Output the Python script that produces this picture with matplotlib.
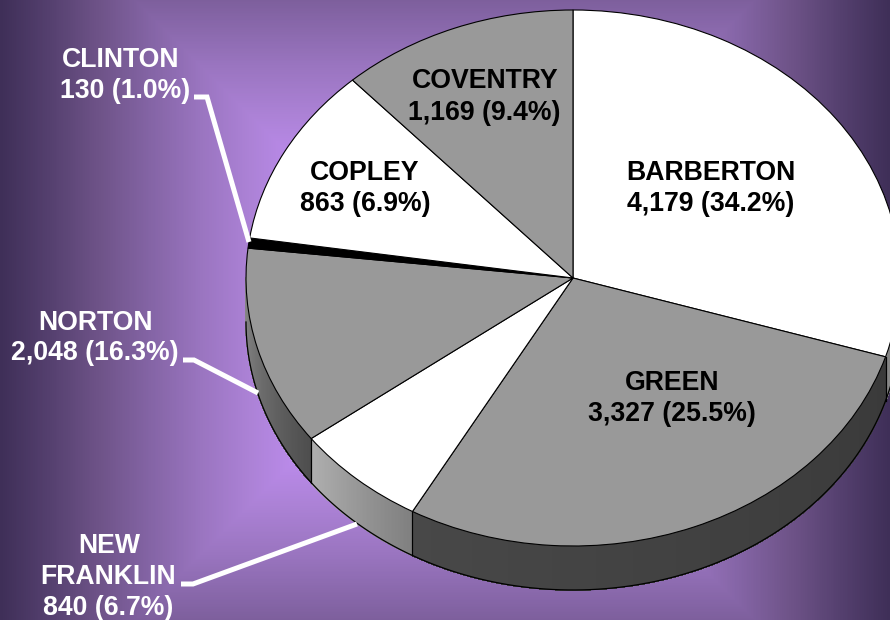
import numpy as np
import matplotlib
matplotlib.use('Agg')
import matplotlib.pyplot as plt
from matplotlib.colors import LinearSegmentedColormap, to_rgb

plt.rcParams['font.family'] = ['Liberation Sans', 'DejaVu Sans']

# clockwise from 12 o'clock
names = [['BARBERTON'], ['GREEN'], ['NEW', 'FRANKLIN'], ['NORTON'], ['CLINTON'], ['COPLEY'], ['COVENTRY']]
counts = [4179, 3327, 840, 2048, 130, 863, 1169]
percents = [34.2, 25.5, 6.7, 16.3, 1.0, 6.9, 9.4]
# the drawn slices do not follow the printed numbers, so sweep is read off the picture
sweep_deg = [107.1, 102.3, 23.8, 43.2, 2.2, 39.0, 42.4]
top_colors = ['white', '#999999', 'white', '#999999', 'black', 'white', '#999999']
# side wall shade, left end and right end
wall_colors = [('#8a8a8a', '#707070'), ('#484848', '#3a3a3a'), ('#b0b0b0', '#808080'),
               ('#8a8a8a', '#4e4e4e'), ('#000000', '#000000'), ('#000000', '#000000'), ('#000000', '#000000')]

W, H = 890, 620
cx, cy, rx, ry = 573, 278, 327, 268
depth = 44 / ry

# one (x, baseline y) for every text line of a label
line_pos = [[(711, 180), (711, 211)],
            [(672, 390), (672, 421)],
            [(109, 553), (108.5, 584), (108.5, 615)],
            [(95, 330), (94.5, 360)],
            [(121, 67), (125, 98)],
            [(365, 180), (365, 211)],
            [(485, 88), (484.5, 120)]]
label_col = ['black', 'black', 'white', 'white', 'white', 'black', 'black']
leaders = [([181, 193, 357], [584, 584, 524]),
           ([183, 194, 258], [360, 360, 393]),
           ([194, 207, 249], [97, 97, 242])]

fig = plt.figure(figsize=(W / 100, H / 100), dpi=100)

# background: rectangular gradient around the middle of the slide
bg = fig.add_axes([0, 0, 1, 1])
xx, yy = np.meshgrid(np.arange(W) + 0.5, np.arange(H) + 0.5)
dist = np.maximum(np.abs(xx - W / 2), np.abs(yy - H / 2)) / (W / 2)
cmap = LinearSegmentedColormap.from_list('slide', [
    (0.0, '#bb8ce9'), (0.35, '#b98ae8'), (0.44, '#ac82d6'), (0.55, '#9a75c0'),
    (0.66, '#8565a6'), (0.78, '#6e5388'), (0.89, '#55406f'), (1.0, '#3f2f58')])
bg.imshow(dist, cmap=cmap, vmin=0, vmax=1, extent=(0, W, H, 0), aspect='auto')
bg.set_xlim(0, W)
bg.set_ylim(H, 0)
bg.axis('off')

# the pie lives in its own stretched axes, this makes the circle an ellipse
pie_ax = fig.add_axes([(cx - rx) / W, 1 - (cy + ry) / H, 2 * rx / W, 2 * ry / H])
pie_ax.patch.set_alpha(0)
wedges, _ = pie_ax.pie(sweep_deg, colors=top_colors, startangle=90, counterclock=False, radius=1,
                       wedgeprops={'edgecolor': 'black', 'linewidth': 0.8, 'zorder': 3})
pie_ax.set_aspect('auto')
pie_ax.set_xlim(-1, 1)
pie_ax.set_ylim(-1, 1)

# side walls, only the lower half of the rim can be seen
ends = 90 - np.cumsum(sweep_deg)
starts = ends + np.array(sweep_deg)
for a0, a1, cols in zip(starts, ends, wall_colors):
    a0 = np.radians(a0) % (2 * np.pi)
    a1 = np.radians(a1) % (2 * np.pi)
    if a0 < a1:
        a0 += 2 * np.pi
    lo = max(a1, np.pi)
    hi = min(a0, 2 * np.pi)
    if hi <= lo:
        continue
    t = np.linspace(lo, hi, 80)
    c0 = np.array(to_rgb(cols[0]))
    c1 = np.array(to_rgb(cols[1]))
    for i in range(len(t) - 1):
        f = i / (len(t) - 2)
        col = c0 + (c1 - c0) * f
        xs = np.cos([t[i], t[i + 1], t[i + 1], t[i]])
        ys = np.sin([t[i], t[i + 1], t[i + 1], t[i]]) - np.array([0, 0, depth, depth])
        pie_ax.fill(xs, ys, color=col, lw=0.6, antialiased=False, zorder=1, clip_on=False)
    pie_ax.plot(np.cos(t), np.sin(t) - depth, color='black', lw=0.9, zorder=2, clip_on=False)
    for a in (lo, hi):
        if a not in (np.pi, 2 * np.pi):
            pie_ax.plot([np.cos(a)] * 2, [np.sin(a), np.sin(a) - depth], color='black', lw=0.8,
                        zorder=2, clip_on=False)

# overlay in pixel coordinates for labels and leader lines
top = fig.add_axes([0, 0, 1, 1])
top.patch.set_alpha(0)
top.set_xlim(0, W)
top.set_ylim(H, 0)
top.axis('off')
for xs, ys in leaders:
    top.plot(xs, ys, color='white', lw=3.6, solid_joinstyle='miter', solid_capstyle='butt')
for name, n, p, pos, col in zip(names, counts, percents, line_pos, label_col):
    lines = name + [f'{n:,} ({p:.1f}%)']
    for line, (x, y) in zip(lines, pos):
        top.text(x, y, line, color=col, fontsize=19.2, fontweight='bold', ha='center', va='baseline')

fig.savefig('out.png', dpi=100)
